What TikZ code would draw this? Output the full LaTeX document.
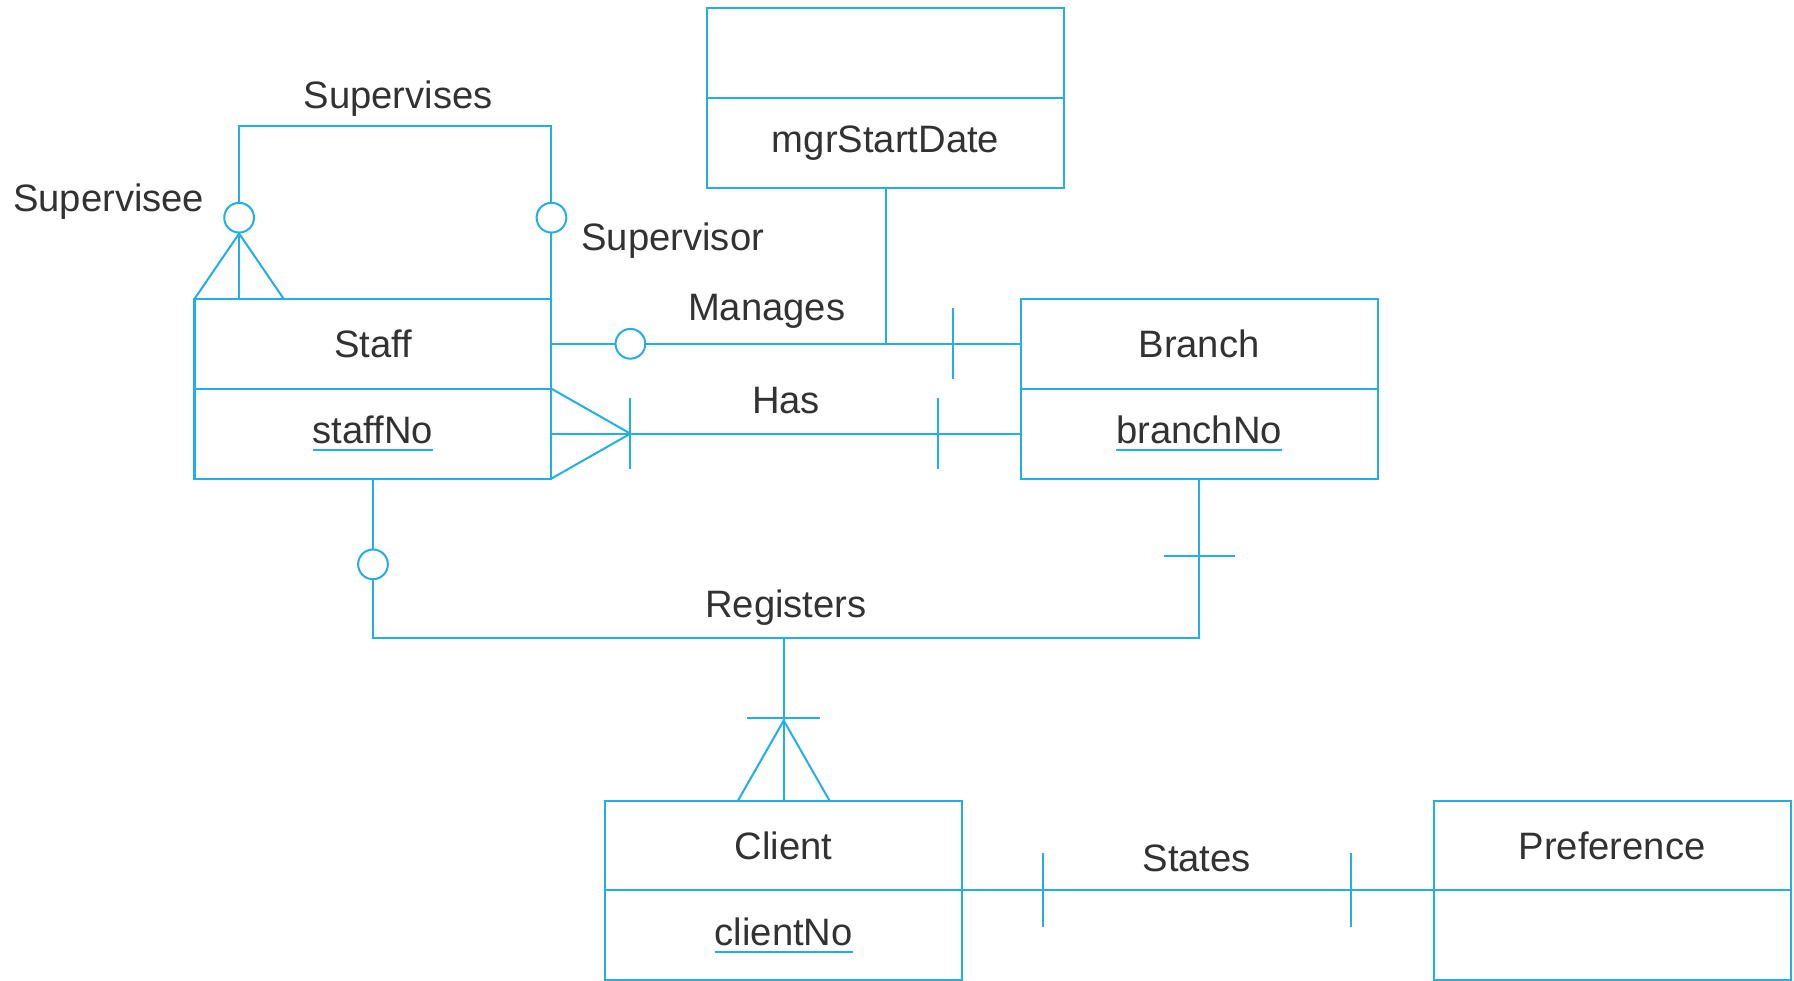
\documentclass[tikz,border=0pt]{standalone}
\usepackage{fontspec}
\setmainfont{Liberation Sans}
\usetikzlibrary{positioning,calc}
\definecolor{erblue}{RGB}{35,174,232}
\definecolor{erink}{RGB}{50,50,50}
\newcommand{\pk}[1]{\begingroup\setbox0=\hbox{#1}\leavevmode\rlap{\textcolor{erblue}{\rule[-4pt]{\wd0}{1pt}}}\box0\endgroup}
\tikzset{
    line/.style={draw=erblue,line width=1pt},
    entity/.style={line,minimum width=62.4mm,minimum height=15.7mm,inner sep=0pt,outer sep=0pt,text=erink,font=\fontsize{19}{22}\selectfont},
    role/.style={text=erink,font=\fontsize{19}{22}\selectfont,inner sep=0pt},
    opt/.style={line,circle,fill=white,minimum size=5.2mm,inner sep=0pt},
}
\begin{document}
\begin{tikzpicture}[x=0.2mm,y=-0.2mm]
    \useasboundingbox (0,0) rectangle (1568,857);
    % Entities
        \foreach \n/\x/\y/\t/\k in {staff/326/300.5/Staff/\pk{staffNo},branch/1048/300.5/Branch/\pk{branchNo},mgr/774/46.5/{}/mgrStartDate,client/685/739/Client/\pk{clientNo},pref/1409/739/Preference/{}}{
            \node[entity] (\n) at (\x,\y) {\t};
            \node[entity,below=0pt of \n] (\n key) {\k};
        }
    % Supervises
        \draw[line] ($(staff.north west)+(39,0)$) -- ++(0,-151) -| (staff.north east);
        \node[opt] (supee) at ($(staff.north west)+(39,-71)$) {};
        \node[opt] (supor) at ($(staff.north east)+(0,-71)$) {};
        \draw[line] (supee.south) -- (staff.north west);
        \draw[line] (supee.south) -- ($(staff.north west)+(78,0)$);
        \node[role] (supervises) at (348,86) {Supervises};
        \node[role] (supervisee) at (95,176) {Supervisee};
        \node[role] (supervisor) at (588,210) {Supervisor};
    % Manages
        \draw[line] (staff.east) -- (branch.west);
        \draw[line] (mgrkey.south) -- (mgrkey.south |- staff.east);
        \node[opt] (mgopt) at ($(staff.east)+(69,0)$) {};
        \draw[line] ($(branch.west)+(-59,-31)$) -- ++(0,62);
        \node[role] (manages) at (670,272) {Manages};
    % Has
        \draw[line] (staffkey.east) -- (branchkey.west);
        \coordinate (hasfoot) at ($(staffkey.east)+(69,0)$);
        \draw[line] (staffkey.north east) -- (hasfoot) -- (staffkey.south east);
        \draw[line] ($(hasfoot)+(0,-31)$) -- ++(0,62);
        \draw[line] ($(branchkey.west)+(-72,-31)$) -- ++(0,62);
        \node[role] (has) at (687,350) {Has};
    % Registers
        \coordinate (regmid) at ($(staffkey.south)+(0,139)$);
        \draw[line] (staffkey.south) -- (regmid) -| (branchkey.south);
        \draw[line] (client.north |- regmid) -- (client.north);
        \node[opt] (regopt) at ($(staffkey.south)+(0,75)$) {};
        \draw[line] ($(branchkey.south)+(-31,68)$) -- ++(62,0);
        \draw[line] ($(client.north)+(-32,-72)$) -- ++(64,0);
        \coordinate (regfoot) at ($(client.north)+(0,-70)$);
        \draw[line] ($(client.north)+(-40,0)$) -- (regfoot) -- ($(client.north)+(40,0)$);
        \node[role] (registers) at (687,531) {Registers};
    % States
        \draw[line] (client.south east) -- (pref.south west);
        \draw[line] ($(client.south east)+(71,-33)$) -- ++(0,65);
        \draw[line] ($(pref.south west)+(-72,-33)$) -- ++(0,65);
        \node[role] (states) at (1046,750) {States};
\end{tikzpicture}
\end{document}
